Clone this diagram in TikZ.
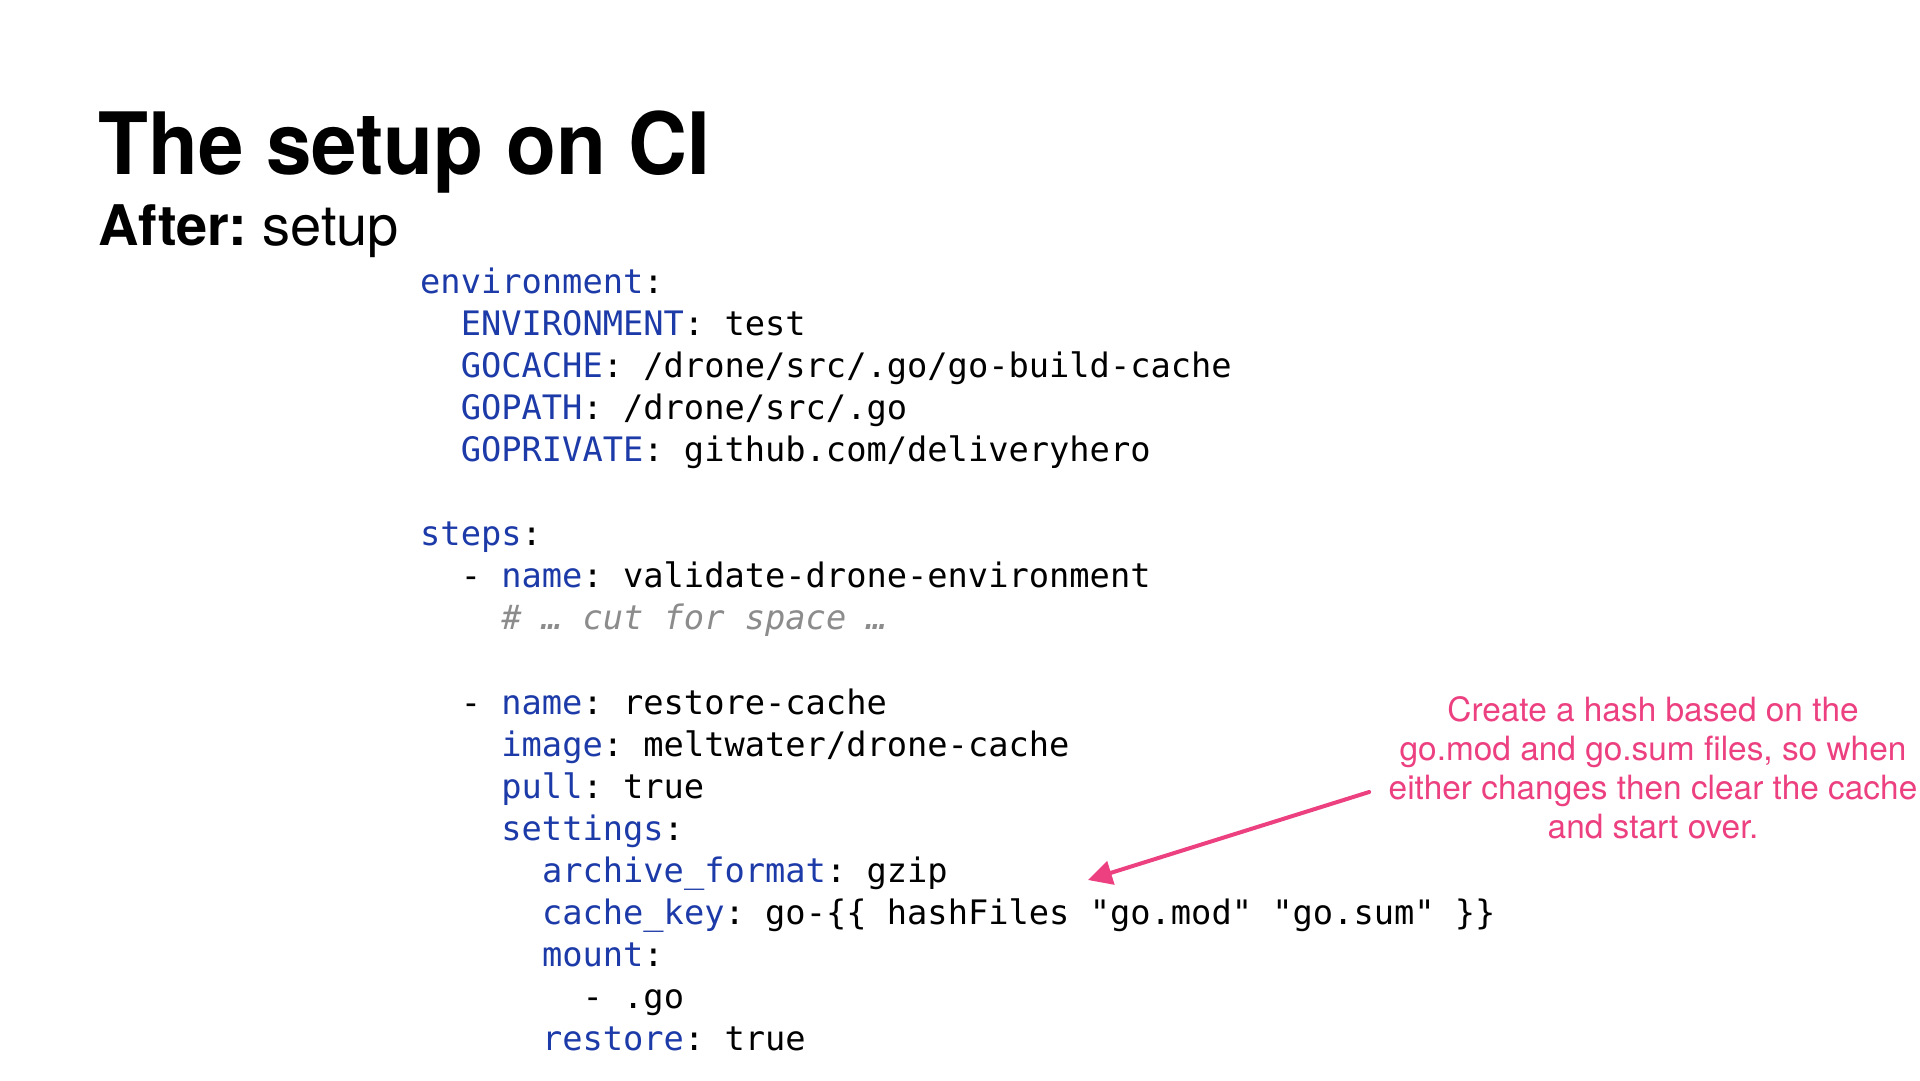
\documentclass[tikz,border=0pt]{standalone}
\usepackage{fontspec}
\setmainfont{TeX Gyre Heros}
\newfontfamily\codefont{DejaVu Sans Mono}
\usetikzlibrary{arrows.meta}

\definecolor{notepink}{RGB}{236,64,128}
\definecolor{keyblue}{RGB}{28,58,168}
\definecolor{commentgray}{RGB}{140,140,140}

\newcommand{\kw}[1]{\textcolor{keyblue}{#1}}

\tikzset{
    codeline/.style={anchor=base west, inner sep=0pt, font=\codefont\fontsize{33.7}{42}\selectfont},
    notetext/.style={align=center, text=notepink, font=\fontsize{33.4}{39}\selectfont},
    notearrow/.style={draw=notepink, line width=4pt, line cap=round, -{Triangle[length=24pt,width=24pt]}},
}

\begin{document}
\frenchspacing
\begin{tikzpicture}[x=1pt,y=-1pt]

% Slide area
\fill[white] (0,0) rectangle (1920,1080);
\useasboundingbox (0,0) rectangle (1920,1080);

% Heading
\node[anchor=base west, inner sep=0pt, font=\bfseries\fontsize{86}{86}\selectfont] (title) at (98,174) {\scalebox{0.95}[1]{The setup on CI}};
\node[anchor=base west, inner sep=0pt, font=\fontsize{56}{56}\selectfont] (subtitle) at (98,245) {\textbf{After:} setup};

% Pipeline code, one node per line (row/indent/text)
\foreach \row/\ind/\txt in {
    0/0/{\kw{environment}:},
    1/2/{\kw{ENVIRONMENT}: test},
    2/2/{\kw{GOCACHE}: /drone/src/.go/go-build-cache},
    3/2/{\kw{GOPATH}: /drone/src/.go},
    4/2/{\kw{GOPRIVATE}: github.com/deliveryhero},
    6/0/{\kw{steps}:},
    7/2/{- \kw{name}: validate-drone-environment},
    8/4/{\color{commentgray}\itshape \# … cut for space …},
    10/2/{- \kw{name}: restore-cache},
    11/4/{\kw{image}: meltwater/drone-cache},
    12/4/{\kw{pull}: true},
    13/4/{\kw{settings}:},
    14/6/{\kw{archive\_format}: gzip},
    15/6/{\kw{cache\_key}: go-\{\{ hashFiles "go.mod" "go.sum" \}\}},
    16/6/{\kw{mount}:},
    17/8/{- .go},
    18/6/{\kw{restore}: true}%
}
    \node[codeline] (line\row) at (420+\ind*20.3, 293+\row*42.1) {\txt};

% Annotation
\node[notetext] (note) at (1653,768) {Create a hash based on the\\go.mod and go.sum files, so when\\either changes then clear the cache\\and start over.};
\coordinate (hashtip) at (1088,880);
\draw[notearrow] ([xshift=-16pt,yshift=-24pt]note.west) -- (hashtip);
\end{tikzpicture}
\end{document}
